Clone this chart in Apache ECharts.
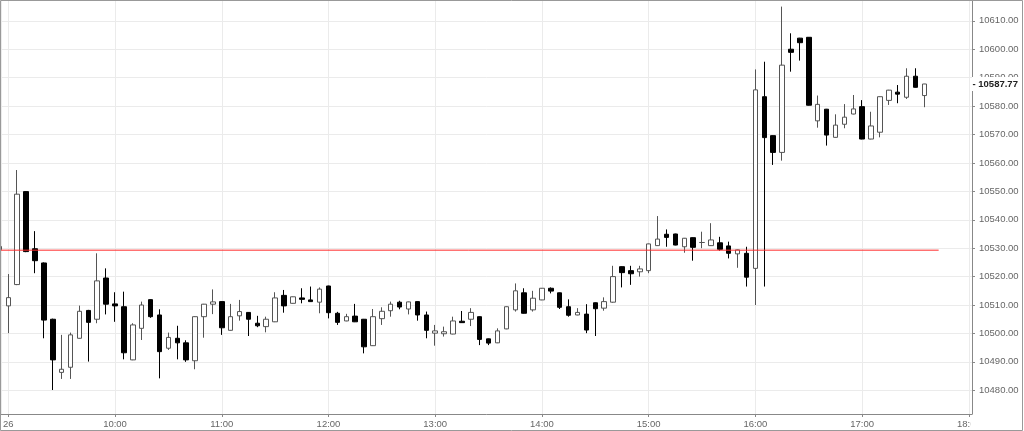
<!DOCTYPE html>
<html>
<head>
<meta charset="utf-8">
<title>Candles</title>
<style>
  html, body { margin: 0; padding: 0; background: #fff; }
  #chart { width: 1024px; height: 431px; }
</style>
<script src="https://cdn.jsdelivr.net/npm/echarts@6/dist/echarts.min.js"></script>
</head>
<body>
<div id="chart"></div>
<script>
  // 5-minute bars
  var times = [
    '08:55', '09:00', '09:05', '09:10', '09:15', '09:20', '09:25', '09:30', '09:35', '09:40', '09:45', '09:50', '09:55',
    '10:00', '10:05', '10:10', '10:15', '10:20', '10:25', '10:30', '10:35', '10:40', '10:45', '10:50', '10:55',
    '11:00', '11:05', '11:10', '11:15', '11:20', '11:25', '11:30', '11:35', '11:40', '11:45', '11:50', '11:55',
    '12:00', '12:05', '12:10', '12:15', '12:20', '12:25', '12:30', '12:35', '12:40', '12:45', '12:50', '12:55',
    '13:00', '13:05', '13:10', '13:15', '13:20', '13:25', '13:30', '13:35', '13:40', '13:45', '13:50', '13:55',
    '14:00', '14:05', '14:10', '14:15', '14:20', '14:25', '14:30', '14:35', '14:40', '14:45', '14:50', '14:55',
    '15:00', '15:05', '15:10', '15:15', '15:20', '15:25', '15:30', '15:35', '15:40', '15:45', '15:50', '15:55',
    '16:00', '16:05', '16:10', '16:15', '16:20', '16:25', '16:30', '16:35', '16:40', '16:45', '16:50', '16:55',
    '17:00', '17:05', '17:10', '17:15', '17:20', '17:25', '17:30', '17:35'
  ]
  var openValues = [
    10529.5, 10509.7, 10517.2, 10549.9, 10529.8, 10524.8, 10505.0, 10486.3, 10488.1, 10498.3, 10508.1, 10505.0, 10519.5,
    10510.4, 10509.4, 10490.7, 10501.8, 10511.9, 10506.5, 10494.8, 10498.3, 10496.7, 10490.4, 10505.9, 10510.3,
    10511.2, 10501.1, 10506.2, 10507.4, 10503.6, 10502.4, 10504.1, 10513.4, 10510.6, 10512.5, 10511.8, 10511.0,
    10516.7, 10507.1, 10504.4, 10506.1, 10505.0, 10495.7, 10505.2, 10508.0, 10511.0, 10508.6, 10511.2, 10506.5,
    10500.1, 10499.9, 10499.8, 10504.3, 10505.0, 10505.9, 10498.1, 10496.7, 10501.6, 10508.3, 10514.3, 10508.3,
    10511.8, 10515.9, 10514.3, 10509.4, 10506.5, 10506.8, 10510.8, 10508.9, 10511.0, 10523.5, 10522.1, 10521.7,
    10522.1, 10530.9, 10534.9, 10535.0, 10530.5, 10533.7, 10532.0, 10530.9, 10531.9, 10530.8, 10528.0, 10528.2,
    10522.9, 10583.3, 10569.6, 10563.7, 10600.0, 10603.9, 10604.2, 10574.8, 10578.9, 10569.0, 10573.6, 10577.2,
    10579.8, 10568.4, 10570.8, 10582.0, 10584.9, 10583.1, 10590.5, 10583.7
  ]
  var closeValues = [
    10530.6, 10512.6, 10549.0, 10528.8, 10525.6, 10504.7, 10490.7, 10487.4, 10499.5, 10507.8, 10503.9, 10518.5, 10510.3,
    10509.7, 10493.2, 10503.0, 10510.0, 10505.9, 10493.6, 10498.6, 10496.7, 10490.7, 10505.9, 10510.3, 10511.1,
    10502.0, 10505.9, 10507.7, 10505.0, 10502.7, 10505.0, 10512.5, 10509.7, 10512.9, 10512.0, 10511.2, 10515.6,
    10507.3, 10503.9, 10505.9, 10504.1, 10495.3, 10505.9, 10507.8, 10510.3, 10509.3, 10511.1, 10506.5, 10501.1,
    10500.9, 10500.6, 10504.4, 10503.8, 10507.4, 10497.9, 10496.6, 10500.9, 10509.4, 10515.0, 10507.1, 10512.4,
    10515.9, 10514.9, 10509.2, 10506.4, 10507.4, 10501.2, 10508.7, 10511.2, 10520.0, 10521.4, 10521.0, 10522.7,
    10531.5, 10533.2, 10533.8, 10531.1, 10533.5, 10530.3, 10532.0, 10532.9, 10529.6, 10528.2, 10529.4, 10519.8,
    10585.7, 10568.9, 10563.7, 10594.4, 10598.9, 10602.3, 10580.3, 10580.6, 10569.8, 10573.3, 10576.1, 10579.0,
    10568.4, 10573.0, 10583.3, 10585.6, 10584.2, 10590.5, 10586.6, 10587.77
  ]
  var lowValues = [
    10529.0, 10500.1, 10517.0, 10528.6, 10521.2, 10498.3, 10480.1, 10484.0, 10484.0, 10498.2, 10490.1, 10503.6, 10506.7,
    10504.1, 10490.9, 10490.6, 10497.7, 10505.5, 10484.2, 10494.2, 10490.9, 10490.0, 10487.4, 10498.5, 10506.8,
    10499.5, 10501.0, 10504.5, 10499.1, 10502.2, 10500.4, 10504.0, 10507.3, 10510.5, 10510.6, 10511.1, 10507.1,
    10505.3, 10503.0, 10504.3, 10504.0, 10493.0, 10495.6, 10503.0, 10505.9, 10508.5, 10506.7, 10504.5, 10498.3,
    10495.7, 10498.9, 10499.7, 10503.7, 10502.6, 10495.9, 10495.9, 10496.6, 10501.5, 10507.7, 10507.0, 10507.7,
    10511.7, 10514.1, 10508.6, 10505.9, 10506.4, 10500.1, 10499.1, 10508.0, 10510.8, 10516.2, 10517.1, 10520.0,
    10521.2, 10530.8, 10530.5, 10531.0, 10528.4, 10525.6, 10530.0, 10530.8, 10529.1, 10526.4, 10523.1, 10516.5,
    10510.0, 10516.5, 10559.3, 10560.8, 10592.1, 10596.0, 10580.2, 10572.4, 10566.1, 10568.9, 10572.2, 10577.1,
    10568.3, 10568.3, 10569.0, 10580.4, 10581.0, 10582.5, 10586.5, 10579.6
  ]
  var highValues = [
    10531.0, 10520.9, 10557.5, 10550.0, 10536.0, 10525.0, 10505.2, 10499.5, 10500.3, 10509.8, 10508.3, 10528.2, 10522.9,
    10514.5, 10514.7, 10503.6, 10511.2, 10512.0, 10508.5, 10500.3, 10502.7, 10497.6, 10506.0, 10510.4, 10515.5,
    10511.3, 10510.4, 10511.8, 10507.5, 10506.2, 10505.9, 10514.5, 10515.3, 10513.0, 10515.9, 10516.5, 10516.2,
    10516.8, 10507.6, 10506.9, 10510.4, 10505.1, 10508.6, 10509.2, 10511.2, 10511.5, 10511.2, 10511.3, 10507.7,
    10503.0, 10502.4, 10505.9, 10507.9, 10508.9, 10506.0, 10498.2, 10501.8, 10509.5, 10517.6, 10515.9, 10515.0,
    10516.0, 10516.2, 10514.4, 10512.0, 10508.9, 10510.3, 10510.9, 10512.7, 10523.8, 10523.6, 10523.8, 10523.8,
    10531.6, 10541.3, 10536.6, 10535.1, 10533.6, 10533.8, 10535.8, 10538.8, 10534.0, 10532.3, 10529.5, 10530.5,
    10592.9, 10595.6, 10569.7, 10615.0, 10605.6, 10604.0, 10604.3, 10583.7, 10579.0, 10577.1, 10580.7, 10583.9,
    10582.1, 10578.0, 10583.4, 10585.7, 10587.4, 10593.3, 10593.3, 10587.8
  ]

  // previous close line and last price
  var refLevel = 10529.3
  var refFrom = '08:50'
  var refTo = '17:43'
  var lastPrice = 10587.77
  var dayLabel = '26'
  var dayStart = '09:00'

  // visible window of the axes
  var xMin = 536.07
  var xMax = 1081.75
  var yMin = 10471.66
  var yMax = 10617.32

  var fontFamily = '"Liberation Sans", Arial, sans-serif'

  function toMinutes(t) {
    var p = t.split(':')
    return +p[0] * 60 + +p[1]
  }
  function minutesLabel(v) {
    if (v === toMinutes(dayStart)) {
      return dayLabel
    }
    var h = Math.floor(v / 60)
    var m = Math.round(v % 60)
    return (h < 10 ? '0' + h : h) + ':' + (m < 10 ? '0' + m : m)
  }

  var candles = times.map(function (t, i) {
    return [toMinutes(t), openValues[i], closeValues[i], lowValues[i], highValues[i]]
  })

  var chart = echarts.init(document.getElementById('chart'))

  chart.setOption({
    backgroundColor: '#fff',
    animation: false,
    textStyle: {
      fontFamily: fontFamily
    },
    grid: {
      left: 0,
      right: 52,
      top: 0,
      bottom: 17
    },
    xAxis: {
      type: 'value',
      min: xMin,
      max: xMax,
      splitNumber: 9,
      minInterval: 60,
      maxInterval: 60,
      axisLine: {
        lineStyle: {
          color: '#888'
        }
      },
      axisTick: {
        show: true,
        length: 3,
        lineStyle: {
          color: '#888'
        }
      },
      axisLabel: {
        showMinLabel: false,
        showMaxLabel: false,
        margin: 5,
        color: '#666',
        fontSize: 9.5,
        formatter: minutesLabel
      },
      splitLine: {
        show: true,
        lineStyle: {
          color: '#ebebeb'
        }
      }
    },
    yAxis: {
      type: 'value',
      position: 'right',
      min: yMin,
      max: yMax,
      splitNumber: 14,
      minInterval: 10,
      maxInterval: 10,
      axisLine: {
        show: true,
        lineStyle: {
          color: '#888'
        }
      },
      axisTick: {
        show: true,
        length: 3,
        lineStyle: {
          color: '#888'
        }
      },
      axisLabel: {
        showMinLabel: false,
        showMaxLabel: false,
        margin: 7,
        color: '#666',
        fontSize: 9.5,
        formatter: function (v) {
          return v.toFixed(2)
        }
      },
      splitLine: {
        lineStyle: {
          color: '#ebebeb'
        }
      }
    },
    series: [
      {
        type: 'candlestick',
        data: candles,
        barWidth: 5,
        clip: true,
        itemStyle: {
          color: '#fff',
          color0: '#000',
          borderColor: '#555',
          borderColor0: '#000',
          borderColorDoji: '#555',
          borderWidth: 1
        },
        markLine: {
          silent: true,
          animation: false,
          symbol: ['none', 'none'],
          lineStyle: {
            color: 'rgba(0,0,0,0)',
            width: 0,
            opacity: 1
          },
          data: [{ yAxis: lastPrice }],
          label: {
            show: true,
            opacity: 1,
            position: 'end',
            distance: 0,
            formatter: '- ' + lastPrice.toFixed(2),
            backgroundColor: '#fff',
            color: '#222',
            fontWeight: 'bold',
            fontSize: 9.5,
            lineHeight: 11,
            padding: [1.5, 3, 1.5, 0.5]
          }
        }
      },
      {
        type: 'line',
        silent: true,
        z: 3,
        symbol: 'none',
        clip: true,
        lineStyle: {
          color: '#ff2a2a',
          width: 1
        },
        data: [[toMinutes(refFrom), refLevel], [toMinutes(refTo), refLevel]]
      }
    ],
    graphic: [
      {
        // the last time label is cut at the plot edge
        type: 'rect',
        z: 50,
        silent: true,
        shape: { x: 970.5, y: 415, width: 50, height: 14 },
        style: { fill: '#fff' }
      },
      {
        type: 'rect',
        z: 100,
        silent: true,
        shape: { x: 0.5, y: 0.5, width: 1022, height: 430 },
        style: { fill: 'none', stroke: '#999', lineWidth: 1 }
      }
    ]
  })
</script>
</body>
</html>
